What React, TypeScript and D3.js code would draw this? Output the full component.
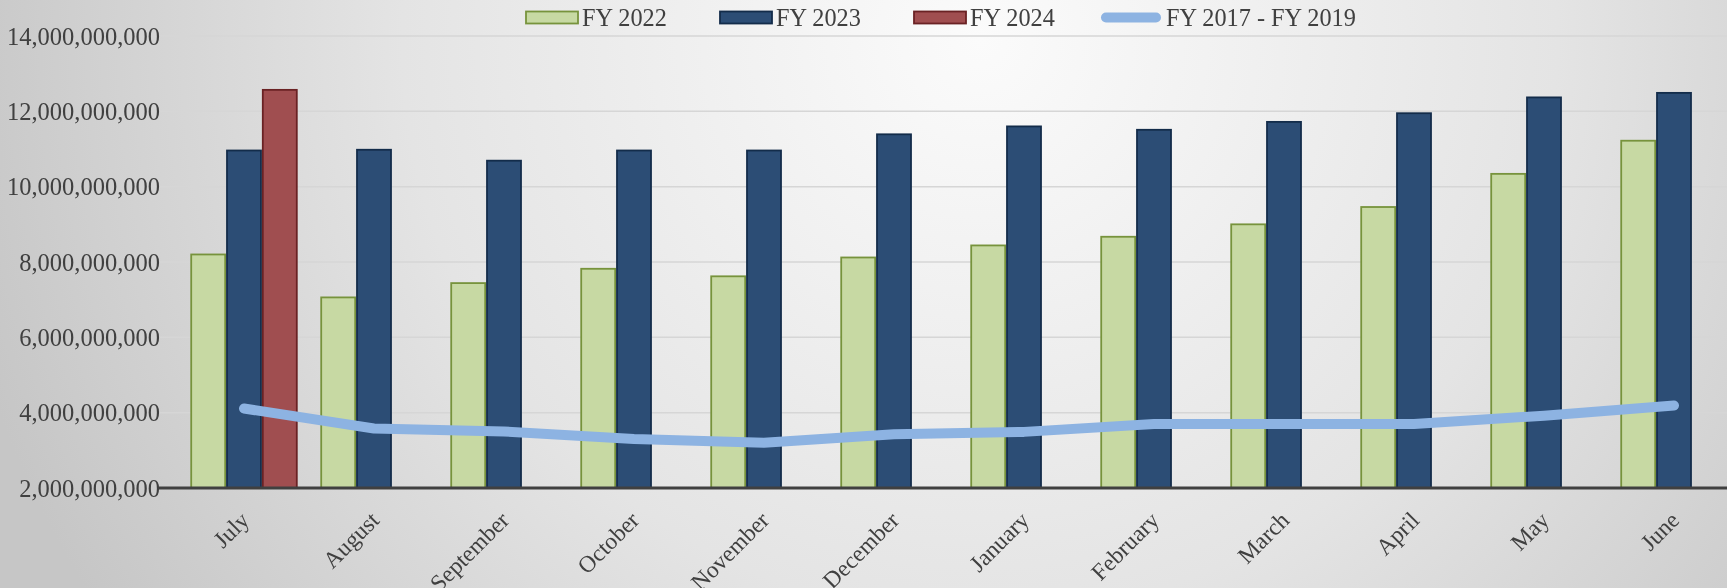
import { useEffect, useRef } from 'react';
import * as d3 from 'd3';

const months = ['July', 'August', 'September', 'October', 'November', 'December', 'January', 'February', 'March', 'April', 'May', 'June'];
const fy2022 = [8.2e9, 7.06e9, 7.44e9, 7.82e9, 7.62e9, 8.12e9, 8.44e9, 8.67e9, 9.0e9, 9.46e9, 10.34e9, 11.22e9];
const fy2023 = [10.96e9, 10.98e9, 10.69e9, 10.96e9, 10.96e9, 11.39e9, 11.6e9, 11.51e9, 11.72e9, 11.95e9, 12.37e9, 12.49e9];
const fy2024 = [12.57e9];
const fy2017to2019 = [4.11e9, 3.58e9, 3.5e9, 3.3e9, 3.2e9, 3.43e9, 3.49e9, 3.7e9, 3.7e9, 3.7e9, 3.92e9, 4.19e9];
const yTicks = [2e9, 4e9, 6e9, 8e9, 10e9, 12e9, 14e9];

const barSeries = [
  { name: 'FY 2022', values: fy2022, fill: '#c7d9a3', stroke: '#77933c' },
  { name: 'FY 2023', values: fy2023, fill: '#2c4d75', stroke: '#132c4a' },
  { name: 'FY 2024', values: fy2024, fill: '#a04e50', stroke: '#6a2224' },
];
const lineColor = '#8db3e2';

function App() {
  const svgRef = useRef<SVGSVGElement>(null);

  useEffect(() => {
    const width = 1727;
    const height = 588;
    const margin = { top: 36, left: 179, bottom: 100 };
    const plotRight = margin.left + 12 * 130;
    const font = '"Liberation Serif", "Times New Roman", serif';

    const svg = d3.select(svgRef.current)
      .attr('width', width)
      .attr('height', height);

    svg.selectAll('*').remove();

    const defs = svg.append('defs');
    const grad = defs.append('radialGradient')
      .attr('id', 'bg')
      .attr('gradientUnits', 'userSpaceOnUse')
      .attr('cx', 980).attr('cy', 40).attr('r', 1050);
    grad.append('stop').attr('offset', 0).attr('stop-color', '#fbfbfb');
    grad.append('stop').attr('offset', 0.55).attr('stop-color', '#e4e4e4');
    grad.append('stop').attr('offset', 1).attr('stop-color', '#c6c6c6');

    svg.append('rect')
      .attr('width', width)
      .attr('height', height)
      .attr('fill', 'url(#bg)');

    const y = d3.scaleLinear()
      .domain([2e9, 14e9])
      .range([height - margin.bottom, margin.top]);

    const x0 = d3.scaleBand()
      .domain(months)
      .range([margin.left, plotRight])
      .paddingInner(0.174)
      .paddingOuter(0.087);

    const x1 = d3.scaleBand()
      .domain(barSeries.map(s => s.name))
      .range([0, x0.bandwidth()]);

    // gridlines
    svg.append('g')
      .selectAll('line')
      .data(yTicks.slice(1))
      .enter()
      .append('line')
      .attr('x1', margin.left - 22)
      .attr('x2', width)
      .attr('y1', d => y(d))
      .attr('y2', d => y(d))
      .attr('stroke', '#d6d6d6')
      .attr('stroke-width', 1.5);

    // y labels
    svg.append('g')
      .selectAll('text')
      .data(yTicks)
      .enter()
      .append('text')
      .attr('x', 160)
      .attr('y', d => y(d))
      .attr('dy', '0.35em')
      .attr('text-anchor', 'end')
      .attr('font-family', font)
      .attr('font-size', 24.5)
      .attr('fill', '#404040')
      .text(d => d3.format(',')(d));

    // bars
    barSeries.forEach(s => {
      svg.append('g')
        .selectAll('rect')
        .data(s.values)
        .enter()
        .append('rect')
        .attr('x', (d, i) => (x0(months[i]) ?? 0) + (x1(s.name) ?? 0) + 0.9)
        .attr('y', d => y(d))
        .attr('width', x1.bandwidth() - 1.8)
        .attr('height', d => y(2e9) - y(d))
        .attr('fill', s.fill)
        .attr('stroke', s.stroke)
        .attr('stroke-width', 1.8);
    });

    // x axis line
    svg.append('line')
      .attr('x1', margin.left - 22)
      .attr('x2', width)
      .attr('y1', y(2e9))
      .attr('y2', y(2e9))
      .attr('stroke', '#404040')
      .attr('stroke-width', 3);

    // line series
    const line = d3.line<number>()
      .x((d, i) => (x0(months[i]) ?? 0) + x0.bandwidth() / 2)
      .y(d => y(d));

    svg.append('path')
      .datum(fy2017to2019)
      .attr('d', line)
      .attr('fill', 'none')
      .attr('stroke', lineColor)
      .attr('stroke-width', 10)
      .attr('stroke-linecap', 'round')
      .attr('stroke-linejoin', 'round');

    // x labels
    svg.append('g')
      .selectAll('text')
      .data(months)
      .enter()
      .append('text')
      .attr('transform', d => `translate(${(x0(d) ?? 0) + x0.bandwidth() / 2 - 5}, ${y(2e9) + 22}) rotate(-45)`)
      .attr('text-anchor', 'end')
      .attr('dy', '0.7em')
      .attr('font-family', font)
      .attr('font-size', 23.5)
      .attr('fill', '#404040')
      .text(d => d);

    // legend
    const legend = svg.append('g').attr('font-family', font).attr('font-size', 24.3).attr('fill', '#404040');
    const legendY = 17.5;
    const items = [
      { x: 526, name: 'FY 2022', s: barSeries[0] },
      { x: 720, name: 'FY 2023', s: barSeries[1] },
      { x: 914, name: 'FY 2024', s: barSeries[2] },
    ];
    items.forEach(it => {
      legend.append('rect')
        .attr('x', it.x)
        .attr('y', legendY - 6)
        .attr('width', 52)
        .attr('height', 12)
        .attr('fill', it.s.fill)
        .attr('stroke', it.s.stroke)
        .attr('stroke-width', 1.8);
      legend.append('text')
        .attr('x', it.x + 56)
        .attr('y', legendY)
        .attr('dy', '0.35em')
        .text(it.name);
    });
    legend.append('line')
      .attr('x1', 1106).attr('x2', 1156)
      .attr('y1', legendY).attr('y2', legendY)
      .attr('stroke', lineColor)
      .attr('stroke-width', 10)
      .attr('stroke-linecap', 'round');
    legend.append('text')
      .attr('x', 1166)
      .attr('y', legendY)
      .attr('dy', '0.35em')
      .text('FY 2017 - FY 2019');
  }, []);

  return <svg ref={svgRef} style={{ position: 'fixed', left: 0, top: 0, display: 'block' }}></svg>;
}

export default App;
